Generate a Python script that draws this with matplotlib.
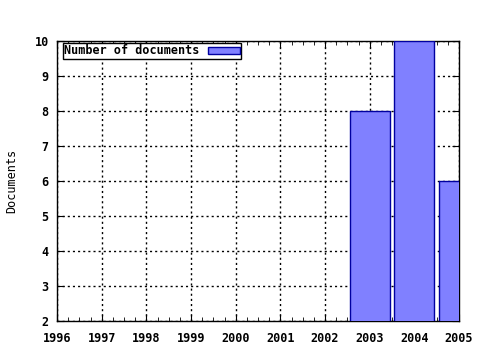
import matplotlib.pyplot as plt
import numpy as np
from matplotlib.ticker import MultipleLocator

years = [2003, 2004, 2005]
docs = [8, 10, 6]
xticks = list(range(1996, 2006))

plt.rcParams['font.family'] = 'DejaVu Sans Mono'
plt.rcParams['font.weight'] = 'bold'
plt.rcParams['font.size'] = 8.5

fig = plt.figure(figsize=(4.8, 3.5), dpi=100)
ax = fig.add_axes([57/480, 29/350, 402/480, 280/350])

ax.bar(years, docs, width=0.9, color='#8080ff', edgecolor='#0000a0', lw=1,
       label='Number of documents', zorder=3)

ax.set_xlim(1996, 2005)
ax.set_ylim(2, 10)
ax.set_xticks(xticks)
ax.xaxis.set_minor_locator(MultipleLocator(0.25))
ax.set_yticks(range(2, 11))
ax.grid(True, which='major', color='k', ls=(0, (1.5, 2.2)), lw=1)
ax.tick_params(which='both', direction='in', top=True, right=True, colors='k')
ax.tick_params(which='major', length=5, pad=8)
ax.tick_params(axis='y', which='major', pad=6)
ax.tick_params(which='minor', length=3)
for s in ax.spines.values():
    s.set_linewidth(1)
ax.set_ylabel('Documents', labelpad=12)

leg = ax.legend(loc='upper left', bbox_to_anchor=(6/402, 1 - 2/280), markerfirst=False,
                fancybox=False, framealpha=1, edgecolor='k', borderpad=0.12,
                handlelength=2.7, handleheight=0.55, borderaxespad=0,
                handletextpad=0.7)
leg.get_frame().set_linewidth(1)

fig.savefig('out.png', dpi=100)
